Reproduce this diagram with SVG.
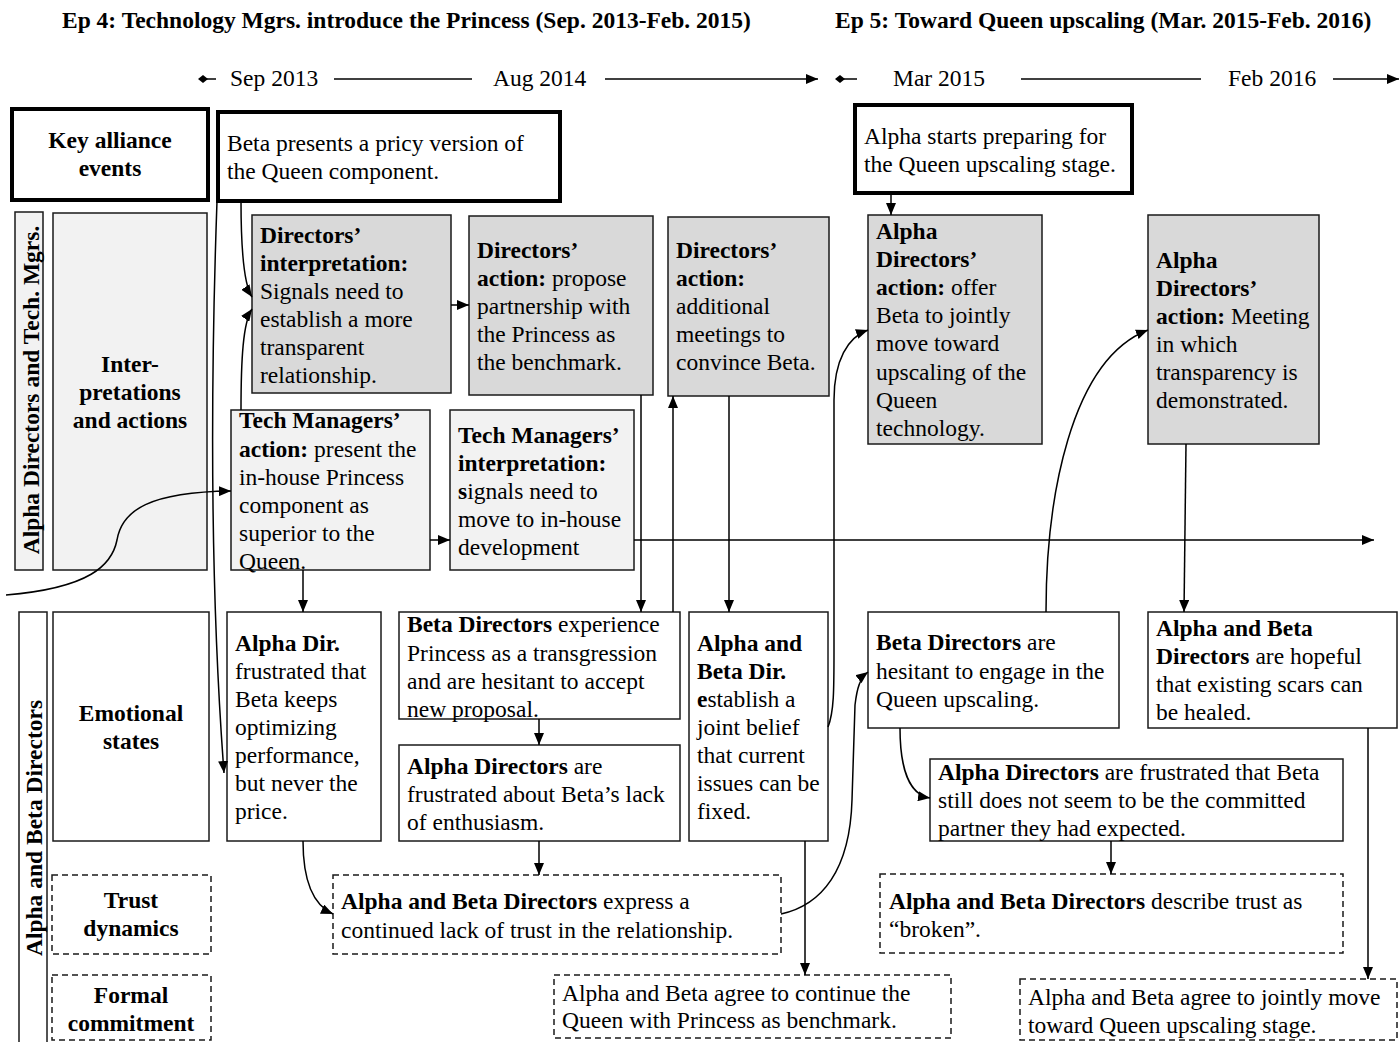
<svg xmlns="http://www.w3.org/2000/svg" width="1400" height="1042" viewBox="0 0 1400 1042">
<style>
.t{font-family:"Liberation Serif","Times New Roman",serif;font-size:23.5px;fill:#000}
.b{font-weight:bold}
.m{text-anchor:middle}
.box{stroke:#1a1a1a;stroke-width:1.5;fill:#fff}
.dk{fill:#d9d9d9}
.lt{fill:#f2f2f2}
.thick{stroke:#000;stroke-width:4;fill:#fff}
.dash{stroke-dasharray:6 4}
.c{fill:none;stroke:#000;stroke-width:1.5}
</style>
<defs>
<marker id="ah" viewBox="0 0 12 10" refX="12" refY="5" markerWidth="12" markerHeight="10" markerUnits="userSpaceOnUse" orient="auto"><path d="M0,0 L12,5 L0,10 z" fill="#000"/></marker>
<marker id="dm" viewBox="0 0 10 10" refX="5" refY="5" markerWidth="10" markerHeight="10" markerUnits="userSpaceOnUse" orient="auto"><path d="M0,5 L5,1 L10,5 L5,9 z" fill="#000"/></marker>
</defs>

<g id="titles">
<text class="t b" x="62" y="28">Ep 4: Technology Mgrs. introduce the Princess (Sep. 2013-Feb. 2015)</text>
<text class="t b" x="835" y="28">Ep 5: Toward Queen upscaling (Mar. 2015-Feb. 2016)</text>
</g>

<g id="timeline">
<line class="c" x1="203" y1="79" x2="216" y2="79" marker-start="url(#dm)"/>
<text class="t" x="230" y="86">Sep 2013</text>
<line class="c" x1="334" y1="79" x2="472" y2="79"/>
<text class="t" x="493" y="86">Aug 2014</text>
<line class="c" x1="605" y1="79" x2="818" y2="79" marker-end="url(#ah)"/>
<line class="c" x1="840" y1="79" x2="857" y2="79" marker-start="url(#dm)"/>
<text class="t" x="893" y="86">Mar 2015</text>
<line class="c" x1="1021" y1="79" x2="1201" y2="79"/>
<text class="t" x="1228" y="86">Feb 2016</text>
<line class="c" x1="1333" y1="79" x2="1399" y2="79" marker-end="url(#ah)"/>
</g>

<g id="key-events">
<rect class="thick" x="12" y="109" width="196" height="91"/>
<text class="t b m" x="110" y="148">Key alliance</text>
<text class="t b m" x="110" y="176">events</text>
</g>
<g id="beta-presents">
<rect class="thick" x="218" y="112" width="342" height="89"/>
<text class="t" x="227" y="151">Beta presents a pricy version of</text>
<text class="t" x="227" y="179">the Queen component.</text>
</g>
<g id="alpha-starts">
<rect class="thick" x="855" y="105" width="277" height="88"/>
<text class="t" x="864" y="144">Alpha starts preparing for</text>
<text class="t" x="864" y="172">the Queen upscaling stage.</text>
</g>

<g id="lane1-label">
<rect class="box lt" x="15" y="212" width="28" height="358"/>
<text class="t b m" transform="translate(39,390) rotate(-90)">Alpha Directors and Tech. Mgrs.</text>
</g>
<g id="interpretations-label">
<rect class="box lt" x="53" y="213" width="154" height="357"/>
<text class="t b m" x="130" y="372">Inter-</text>
<text class="t b m" x="130" y="400">pretations</text>
<text class="t b m" x="130" y="428">and actions</text>
</g>

<g id="dir-interpretation">
<rect class="box dk" x="252" y="215" width="199" height="178"/>
<text class="t b" x="260" y="243">Directors’</text>
<text class="t b" x="260" y="271">interpretation:</text>
<text class="t" x="260" y="299">Signals need to</text>
<text class="t" x="260" y="327">establish a more</text>
<text class="t" x="260" y="355">transparent</text>
<text class="t" x="260" y="383">relationship.</text>
</g>
<g id="dir-action-propose">
<rect class="box dk" x="469" y="216" width="184" height="179"/>
<text class="t b" x="477" y="258">Directors’</text>
<text class="t" x="477" y="286"><tspan class="b">action:</tspan> propose</text>
<text class="t" x="477" y="314">partnership with</text>
<text class="t" x="477" y="342">the Princess as</text>
<text class="t" x="477" y="370">the benchmark.</text>
</g>
<g id="dir-action-meetings">
<rect class="box dk" x="668" y="217" width="161" height="179"/>
<text class="t b" x="676" y="258">Directors’</text>
<text class="t b" x="676" y="286">action:</text>
<text class="t" x="676" y="314">additional</text>
<text class="t" x="676" y="342">meetings to</text>
<text class="t" x="676" y="370">convince Beta.</text>
</g>
<g id="alpha-dir-offer">
<rect class="box dk" x="868" y="215" width="174" height="229"/>
<text class="t b" x="876" y="239">Alpha</text>
<text class="t b" x="876" y="267">Directors’</text>
<text class="t" x="876" y="295"><tspan class="b">action:</tspan> offer</text>
<text class="t" x="876" y="323">Beta to jointly</text>
<text class="t" x="876" y="351">move toward</text>
<text class="t" x="876" y="380">upscaling of the</text>
<text class="t" x="876" y="408">Queen</text>
<text class="t" x="876" y="436">technology.</text>
</g>
<g id="alpha-dir-meeting">
<rect class="box dk" x="1148" y="215" width="171" height="229"/>
<text class="t b" x="1156" y="268">Alpha</text>
<text class="t b" x="1156" y="296">Directors’</text>
<text class="t" x="1156" y="324"><tspan class="b">action:</tspan> Meeting</text>
<text class="t" x="1156" y="352">in which</text>
<text class="t" x="1156" y="380">transparency is</text>
<text class="t" x="1156" y="408">demonstrated.</text>
</g>
<g id="tech-action">
<rect class="box lt" x="231" y="410" width="199" height="160"/>
<text class="t b" x="239" y="428">Tech Managers’</text>
<text class="t" x="239" y="457"><tspan class="b">action:</tspan> present the</text>
<text class="t" x="239" y="485">in-house Princess</text>
<text class="t" x="239" y="513">component as</text>
<text class="t" x="239" y="541">superior to the</text>
<text class="t" x="239" y="569">Queen.</text>
</g>
<g id="tech-interpretation">
<rect class="box lt" x="450" y="410" width="184" height="160"/>
<text class="t b" x="458" y="443">Tech Managers’</text>
<text class="t b" x="458" y="471">interpretation:</text>
<text class="t" x="458" y="499"><tspan class="b">s</tspan>ignals need to</text>
<text class="t" x="458" y="527">move to in-house</text>
<text class="t" x="458" y="555">development</text>
</g>

<g id="lane2-label">
<rect class="box" x="19" y="612" width="28" height="440"/>
<text class="t b m" transform="translate(42,828) rotate(-90)">Alpha and Beta Directors</text>
</g>
<g id="emotional-label">
<rect class="box" x="53" y="612" width="156" height="229"/>
<text class="t b m" x="131" y="721">Emotional</text>
<text class="t b m" x="131" y="749">states</text>
</g>
<g id="trust-label">
<rect class="box dash" x="52" y="875" width="159" height="79"/>
<text class="t b m" x="131" y="908">Trust</text>
<text class="t b m" x="131" y="936">dynamics</text>
</g>
<g id="formal-label">
<rect class="box dash" x="52" y="975" width="159" height="65"/>
<text class="t b m" x="131" y="1003">Formal</text>
<text class="t b m" x="131" y="1031">commitment</text>
</g>

<g id="alpha-dir-frustrated">
<rect class="box" x="227" y="612" width="154" height="229"/>
<text class="t b" x="235" y="651">Alpha Dir.</text>
<text class="t" x="235" y="679">frustrated that</text>
<text class="t" x="235" y="707">Beta keeps</text>
<text class="t" x="235" y="735">optimizing</text>
<text class="t" x="235" y="763">performance,</text>
<text class="t" x="235" y="791">but never the</text>
<text class="t" x="235" y="819">price.</text>
</g>
<g id="beta-dir-transgression">
<rect class="box" x="399" y="612" width="281" height="107"/>
<text class="t" x="407" y="632"><tspan class="b">Beta Directors</tspan> experience</text>
<text class="t" x="407" y="661">Princess as a transgression</text>
<text class="t" x="407" y="689">and are hesitant to accept</text>
<text class="t" x="407" y="717">new proposal.</text>
</g>
<g id="alpha-dir-enthusiasm">
<rect class="box" x="399" y="745" width="281" height="96"/>
<text class="t" x="407" y="774"><tspan class="b">Alpha Directors</tspan> are</text>
<text class="t" x="407" y="802">frustrated about Beta’s lack</text>
<text class="t" x="407" y="830">of enthusiasm.</text>
</g>
<g id="ab-dir-belief">
<rect class="box" x="689" y="612" width="139" height="229"/>
<text class="t b" x="697" y="651">Alpha and</text>
<text class="t b" x="697" y="679">Beta Dir.</text>
<text class="t" x="697" y="707"><tspan class="b">e</tspan>stablish a</text>
<text class="t" x="697" y="735">joint belief</text>
<text class="t" x="697" y="763">that current</text>
<text class="t" x="697" y="791">issues can be</text>
<text class="t" x="697" y="819">fixed.</text>
</g>
<g id="beta-dir-hesitant">
<rect class="box" x="868" y="612" width="251" height="116"/>
<text class="t" x="876" y="650"><tspan class="b">Beta Directors</tspan> are</text>
<text class="t" x="876" y="679">hesitant to engage in the</text>
<text class="t" x="876" y="707">Queen upscaling.</text>
</g>
<g id="ab-dir-hopeful">
<rect class="box" x="1148" y="612" width="249" height="116"/>
<text class="t b" x="1156" y="636">Alpha and Beta</text>
<text class="t" x="1156" y="664"><tspan class="b">Directors</tspan> are hopeful</text>
<text class="t" x="1156" y="692">that existing scars can</text>
<text class="t" x="1156" y="720">be healed.</text>
</g>
<g id="alpha-dir-committed">
<rect class="box" x="930" y="759" width="413" height="82"/>
<text class="t" x="938" y="780"><tspan class="b">Alpha Directors</tspan> are frustrated that Beta</text>
<text class="t" x="938" y="808">still does not seem to be the committed</text>
<text class="t" x="938" y="836">partner they had expected.</text>
</g>
<g id="trust-lack">
<rect class="box dash" x="333" y="875" width="448" height="79"/>
<text class="t" x="341" y="909"><tspan class="b">Alpha and Beta Directors</tspan> express a</text>
<text class="t" x="341" y="938">continued lack of trust in the relationship.</text>
</g>
<g id="trust-broken">
<rect class="box dash" x="880" y="874" width="463" height="79"/>
<text class="t" x="889" y="909"><tspan class="b">Alpha and Beta Directors</tspan> describe trust as</text>
<text class="t" x="889" y="937">“broken”.</text>
</g>
<g id="formal-continue">
<rect class="box dash" x="554" y="975" width="397" height="63"/>
<text class="t" x="562" y="1001">Alpha and Beta agree to continue the</text>
<text class="t" x="562" y="1028">Queen with Princess as benchmark.</text>
</g>
<g id="formal-upscaling">
<rect class="box dash" x="1020" y="979" width="377" height="61"/>
<text class="t" x="1028" y="1005">Alpha and Beta agree to jointly move</text>
<text class="t" x="1028" y="1033">toward Queen upscaling stage.</text>
</g>

<g id="connectors" class="c" marker-end="url(#ah)">
<path d="M217,201 C210,400 211,600 224,773"/>
<path d="M241,201 C241,250 244,285 252,297"/>
<path d="M241,410 C241,360 243,322 252,309"/>
<path d="M451,305 L469,305"/>
<path d="M430,540 L450,540"/>
<path d="M303,570 L303,612"/>
<path d="M641,395 L641,612"/>
<path d="M673,612 L673,396"/>
<path d="M729,396 L729,612"/>
<path d="M539,719 L539,745"/>
<path d="M539,841 L539,875"/>
<path d="M303,841 C303,880 313,905 333,914"/>
<path d="M828,727 C834,712 834,690 834,650 L834,400 C834,360 848,337 868,330"/>
<path d="M805,841 L805,975"/>
<path d="M781,914 C822,905 850,870 852,800 L855,705 C857,688 860,678 868,672"/>
<path d="M634,540 L1374,540"/>
<path d="M6,595 C90,588 112,565 117,540 C122,510 150,492 231,491"/>
<path d="M891,193 L891,215"/>
<path d="M1046,612 C1046,500 1070,360 1148,330"/>
<path d="M900,728 C900,770 910,795 930,798"/>
<path d="M1186,444 L1184,612"/>
<path d="M1111,841 L1111,874"/>
<path d="M1368,728 L1368,979"/>
</g>
</svg>
